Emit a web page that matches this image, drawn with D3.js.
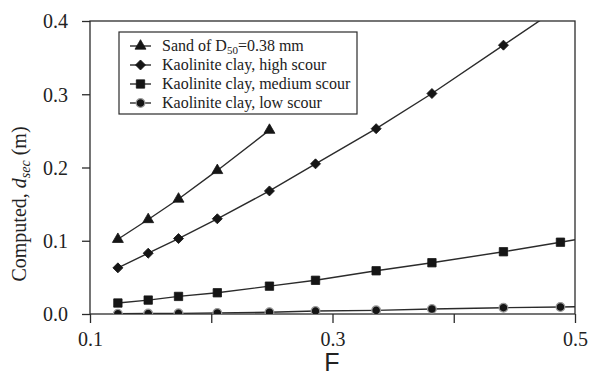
<!DOCTYPE html>
<html>
<head>
<meta charset="utf-8">
<script src="https://cdn.jsdelivr.net/npm/d3@7"></script>
<style>
  html, body { margin: 0; padding: 0; background: #fff; }
  svg { display: block; }
</style>
</head>
<body>
<svg id="chart" width="590" height="375"></svg>
<script>
// Froude number values shared by all series
const froude = [0.123, 0.148, 0.173, 0.205, 0.248, 0.286, 0.336, 0.382, 0.441, 0.488];

// Computed scour depth d_sec (m) for each material
const sandD50 = [0.102, 0.129, 0.157, 0.196, 0.251];
const kaoliniteHigh = [0.063, 0.083, 0.103, 0.130, 0.168, 0.205, 0.253, 0.301, 0.367];
const kaoliniteMedium = [0.015, 0.019, 0.024, 0.029, 0.038, 0.046, 0.059, 0.070, 0.085, 0.098];
const kaoliniteLow = [0.0003, 0.0006, 0.0009, 0.0015, 0.0024, 0.0040, 0.0050, 0.0068, 0.0086, 0.0096];

const xTicks = [0.1, 0.2, 0.3, 0.4, 0.5];
const xTickLabels = ["0.1", "", "0.3", "", "0.5"];
const yTicks = [0.0, 0.1, 0.2, 0.3, 0.4];

const legendLabels = [
  ["Sand of D", "50", "=0.38 mm"],
  ["Kaolinite clay, high scour"],
  ["Kaolinite clay, medium scour"],
  ["Kaolinite clay, low scour"]
];

const SERIF = '"Liberation Serif", "Times New Roman", "DejaVu Serif", serif';
const SANS = '"Liberation Sans", Arial, "DejaVu Sans", sans-serif';

const svg = d3.select("#chart");
const plot = { left: 90, right: 575, top: 21, bottom: 314 };
const ink = "#2b2b2b";

const x = d3.scaleLinear().domain([0.1, 0.5]).range([plot.left, plot.right]);
const y = d3.scaleLinear().domain([0, 0.4]).range([plot.bottom, plot.top]);

svg.append("clipPath").attr("id", "plotClip")
  .append("rect")
  .attr("x", plot.left).attr("y", plot.top)
  .attr("width", plot.right - plot.left).attr("height", plot.bottom - plot.top);

// series setup: symbol type and whether the curve runs on to the frame edge
const series = [
  { values: sandD50, symbol: d3.symbolTriangle, size: 52, rotate: 0, extend: false },
  { values: kaoliniteHigh, symbol: d3.symbolSquare, size: 50, rotate: 45, extend: true },
  { values: kaoliniteMedium, symbol: d3.symbolSquare, size: 70, rotate: 0, extend: true },
  { values: kaoliniteLow, symbol: d3.symbolCircle, size: 60, rotate: 0, extend: true, circle: true }
];

// axes
const xAxis = d3.axisBottom(x).tickValues(xTicks)
  .tickFormat((d, i) => xTickLabels[i]).tickSize(9).tickPadding(9);
const yAxis = d3.axisLeft(y).tickValues(yTicks)
  .tickFormat(d3.format(".1f")).tickSize(8).tickPadding(14);

const gx = svg.append("g").attr("transform", `translate(0,${plot.bottom})`).call(xAxis);
const gy = svg.append("g").attr("transform", `translate(${plot.left},0)`).call(yAxis);
[gx, gy].forEach(g => {
  g.attr("font-family", null);
  g.select(".domain").remove();
  g.selectAll(".tick line").attr("stroke", ink).attr("stroke-width", 1.3);
  g.selectAll(".tick text").style("font-family", SERIF).attr("font-size", 20).attr("fill", "#222");
});
gy.selectAll(".tick text").attr("dy", "0.34em");

// frame
svg.append("rect")
  .attr("x", plot.left).attr("y", plot.top)
  .attr("width", plot.right - plot.left).attr("height", plot.bottom - plot.top)
  .attr("fill", "none").attr("stroke", ink).attr("stroke-width", 1.3);

function marker(sel, s) {
  sel.attr("d", d3.symbol(s.symbol, s.size)())
    .attr("fill", "#151515")
    .attr("stroke", s.circle ? "#9a9a9a" : "#151515")
    .attr("stroke-width", s.circle ? 1.2 : 0.8);
}

// lines and markers
const line = d3.line().x(d => x(d[0])).y(d => y(d[1]));
const area = svg.append("g").attr("clip-path", "url(#plotClip)");

series.forEach(s => {
  const pts = s.values.map((v, i) => [froude[i], v]);
  const path = pts.slice();
  if (s.extend) {
    const a = pts[pts.length - 2], b = pts[pts.length - 1];
    const slope = (b[1] - a[1]) / (b[0] - a[0]);
    const xEnd = x.domain()[1];
    path.push([xEnd, b[1] + slope * (xEnd - b[0])]);
  }
  area.append("path").attr("d", line(path))
    .attr("fill", "none").attr("stroke", ink).attr("stroke-width", 1.4);
  area.selectAll(null).data(pts).join("path")
    .attr("transform", d => `translate(${x(d[0])},${y(d[1])}) rotate(${s.rotate})`)
    .call(marker, s);
});

// axis titles
svg.append("text").style("font-family", SANS)
  .attr("x", 332).attr("y", 371).attr("text-anchor", "middle")
  .attr("font-size", 25).attr("fill", "#222").text("F");

const yt = svg.append("text").style("font-family", SERIF)
  .attr("transform", "translate(26,204) rotate(-90)")
  .attr("text-anchor", "middle").attr("font-size", 20).attr("fill", "#222");
yt.append("tspan").text("Computed, ");
yt.append("tspan").attr("font-style", "italic").text("d");
yt.append("tspan").attr("font-style", "italic").attr("font-size", 14).attr("dy", 4).text("sec");
yt.append("tspan").attr("dy", -4).text(" (m)");

// legend
const lg = svg.append("g");
lg.append("rect")
  .attr("x", 119).attr("y", 32).attr("width", 238).attr("height", 82)
  .attr("fill", "#fff").attr("stroke", ink).attr("stroke-width", 1.2);

const rowY = [46, 65, 84, 103];
series.forEach((s, i) => {
  const cy = rowY[i];
  lg.append("line").attr("x1", 130).attr("x2", 151).attr("y1", cy).attr("y2", cy)
    .attr("stroke", ink).attr("stroke-width", 1.4);
  lg.append("path").attr("transform", `translate(140.5,${cy}) rotate(${s.rotate})`)
    .call(marker, s);
  const t = lg.append("text").style("font-family", SERIF)
    .attr("x", 162).attr("y", cy + 5).attr("font-size", 16).attr("fill", "#222");
  const parts = legendLabels[i];
  t.append("tspan").text(parts[0]);
  if (parts.length > 1) {
    t.append("tspan").attr("font-size", 11).attr("dy", 3).text(parts[1]);
    t.append("tspan").attr("dy", -3).text(parts[2]);
  }
});
</script>
</body>
</html>
